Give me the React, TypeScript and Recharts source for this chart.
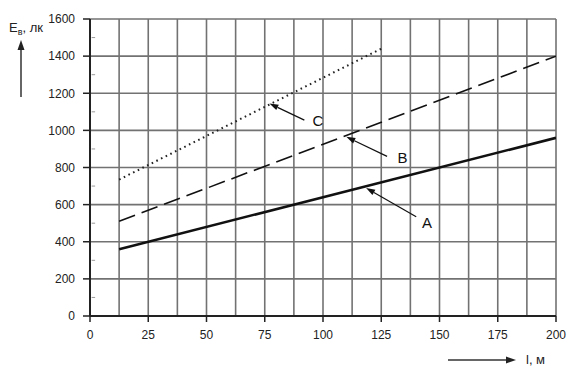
import { LineChart, Line, XAxis, YAxis, CartesianGrid, ReferenceLine, ReferenceDot } from 'recharts'

// distance l, m
const lengths = [12.5, 200]
const lengthsC = [12.5, 125]

// illuminance E, lx
const curveA = [360, 960]
const curveB = [510, 1400]
const curveC = [735, 1440]

const xTicks = [0, 25, 50, 75, 100, 125, 150, 175, 200]
const yTicks = [0, 200, 400, 600, 800, 1000, 1200, 1400, 1600]
const xMinorGrid = [12.5, 37.5, 62.5, 87.5, 112.5, 137.5, 162.5, 187.5]
const yMinorTicks = [100, 300, 500, 700, 900, 1100, 1300, 1500]

// leader arrows: tail (label side) -> head (on the curve)
const callouts = [
  { name: 'A', tail: [140, 535], head: [118.5, 690], text: [142.5, 505] },
  { name: 'B', tail: [127.5, 860], head: [110, 965], text: [132, 852] },
  { name: 'C', tail: [92, 1055], head: [77, 1145], text: [95.5, 1050] }
]

const data = lengths.map((l, i) => ({ l, a: curveA[i], b: curveB[i] }))
const dataC = lengthsC.map((l, i) => ({ l, c: curveC[i] }))

const GRID = '#727272'
const FONT = '"Liberation Sans", Arial, sans-serif'

const Arrow = (props: any) => {
  const { x1, y1, x2, y2 } = props
  if (x1 == null) return null
  const dx = x2 - x1
  const dy = y2 - y1
  const len = Math.sqrt(dx * dx + dy * dy)
  const ux = dx / len
  const uy = dy / len
  const hl = 9
  const hw = 3
  const bx = x2 - ux * hl
  const by = y2 - uy * hl
  return (
    <g>
      <line x1={x1} y1={y1} x2={bx} y2={by} stroke="#111" strokeWidth={1.2} />
      <polygon
        points={`${x2},${y2} ${bx - uy * hw},${by + ux * hw} ${bx + uy * hw},${by - ux * hw}`}
        fill="#111"
      />
    </g>
  )
}

export default function App() {
  return (
    <div style={{ position: 'relative', width: 574, height: 366, background: '#fff' }}>
      <style>{'body{margin:0}'}</style>
      <LineChart width={574} height={366} margin={{ top: 19, right: 18, bottom: 0, left: 0 }}>
        <CartesianGrid stroke={GRID} strokeWidth={1.6} />
        {xMinorGrid.map((x) => (
          <ReferenceLine key={x} x={x} stroke={GRID} strokeWidth={1.6} />
        ))}
        {yMinorTicks.map((y) => (
          <ReferenceLine
            key={y}
            segment={[{ x: 0.7, y }, { x: 2.2, y }]}
            stroke="#999"
            strokeWidth={1}
          />
        ))}
        <XAxis
          dataKey="l"
          type="number"
          domain={[0, 200]}
          ticks={xTicks}
          allowDataOverflow
          height={50}
          tickSize={6}
          tickMargin={8}
          axisLine={{ stroke: '#222', strokeWidth: 2 }}
          tickLine={{ stroke: '#222', strokeWidth: 1.5 }}
          tick={{ fill: '#222', fontSize: 12, fontFamily: FONT }}
        />
        <YAxis
          type="number"
          domain={[0, 1600]}
          ticks={yTicks}
          width={90}
          tickSize={7}
          tickMargin={8}
          axisLine={{ stroke: '#222', strokeWidth: 2 }}
          tickLine={{ stroke: '#222', strokeWidth: 1.5 }}
          tick={{ fill: '#222', fontSize: 12, fontFamily: FONT }}
        />
        <Line data={data} dataKey="a" stroke="#111" strokeWidth={2.6} dot={false} isAnimationActive={false} />
        <Line
          data={data}
          dataKey="b"
          stroke="#111"
          strokeWidth={1.6}
          strokeDasharray="17 7"
          dot={false}
          isAnimationActive={false}
        />
        <Line
          data={dataC}
          dataKey="c"
          stroke="#222"
          strokeWidth={2}
          strokeDasharray="1.6 3.6"
          dot={false}
          isAnimationActive={false}
        />
        {callouts.map((c) => (
          <ReferenceLine
            key={'arr' + c.name}
            segment={[{ x: c.tail[0], y: c.tail[1] }, { x: c.head[0], y: c.head[1] }]}
            shape={Arrow}
          />
        ))}
        {callouts.map((c) => (
          <ReferenceDot
            key={'lbl' + c.name}
            x={c.text[0]}
            y={c.text[1]}
            r={0}
            fill="none"
            stroke="none"
            label={{ value: c.name, position: 'right', offset: 0, fill: '#111', fontSize: 15, fontFamily: FONT }}
          />
        ))}
      </LineChart>
      <svg
        width={574}
        height={366}
        style={{ position: 'absolute', left: 0, top: 0, pointerEvents: 'none' }}
        fontFamily={FONT}
      >
        <text x={9} y={32} fontSize={13} fill="#222">
          E
          <tspan fontSize={9} dy={3}>в</tspan>
          <tspan dy={-3}>, лк</tspan>
        </text>
        <line x1={21} y1={97} x2={21} y2={48} stroke="#333" strokeWidth={1.5} />
        <polygon points="21,40 17.5,50 24.5,50" fill="#222" />
        <line x1={448} y1={360} x2={507} y2={360} stroke="#333" strokeWidth={1.5} />
        <polygon points="516,360 506,356.5 506,363.5" fill="#222" />
        <text x={526} y={364} fontSize={13} fill="#222">l, м</text>
      </svg>
    </div>
  )
}
